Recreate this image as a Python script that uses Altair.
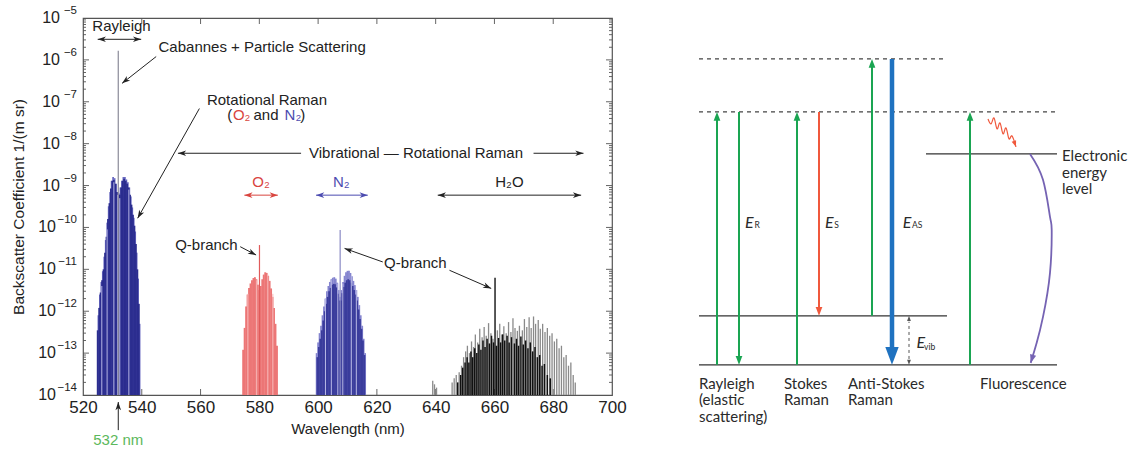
import math
import altair as alt
import pandas as pd

FONT = "Liberation Sans"
DFONT = "Lato"
INK = "#222222"
RED_T = "#d9453f"
BLUE_T = "#4b4bb0"
GREEN_T = "#5cb85c"

# ================= LEFT PANEL: backscatter spectrum =================
W_L, H_L = 529, 377

ray_outer_nm = [525.25, 525.75, 526.25, 526.75, 527.25, 527.75, 528.25, 528.75, 529.25, 529.75,
                530.25, 530.75, 531.25, 531.75, 532.25, 532.75, 533.25, 533.75, 534.25, 534.75,
                535.25, 535.75, 536.25, 536.75, 537.25, 537.75, 538.25, 538.75, 539.25]
ray_outer_val = [8e-13, 2.5e-12, 5e-12, 9e-12, 2e-11, 5e-11, 1.3e-10, 3.2e-10, 7e-10, 1.3e-9,
                 1.6e-9, 1.5e-9, 1.1e-9, 7e-10, 6.5e-10, 9e-10, 1.3e-9, 1.6e-9, 1.6e-9, 1.4e-9,
                 1.2e-9, 9e-10, 5.5e-10, 3e-10, 1.7e-10, 8e-11, 2.5e-11, 6e-12, 5e-13]
ray_inner_nm = [525.0, 525.5, 526.0, 526.5, 527.0, 527.5, 528.0, 528.5, 529.0, 529.5,
                530.0, 530.5, 531.0, 531.5, 532.0, 532.5, 533.0, 533.5, 534.0, 534.5,
                535.0, 535.5, 536.0, 536.5, 537.0, 537.5, 538.0, 538.5, 539.0]
ray_inner_val = [3.5e-13, 1.2e-12, 2.8e-12, 5.5e-12, 1e-11, 2.5e-11, 6e-11, 1.6e-10, 3.8e-10, 8.5e-10,
                 1.3e-9, 1.35e-9, 1.1e-9, 7e-10, 4.5e-10, 6e-10, 9e-10, 1.3e-9, 1.45e-9, 1.3e-9,
                 1.1e-9, 9e-10, 6e-10, 3.5e-10, 2e-10, 1.1e-10, 4e-11, 1e-11, 1.5e-12]
ray_streak_nm = [526.4, 528.2, 530.5, 531.8, 532.5, 535.6]
ray_streak_val = [4e-12, 9e-11, 1.2e-9, 6e-10, 5e-10, 8e-10]
cabannes_nm = [532.0]
cabannes_val = [1.65e-6]

o2_nm = [574.5, 575.0, 575.5, 576.0, 576.5, 577.0, 577.5, 578.0, 578.5, 579.0, 579.5, 580.0,
         580.5, 581.0, 581.5, 582.0, 582.5, 583.0, 583.5, 584.0, 584.5, 585.0, 585.5, 586.0]
o2_val = [1.2e-13, 4e-13, 1.3e-12, 2.5e-12, 3.6e-12, 4.6e-12, 5.5e-12, 6.2e-12, 6.5e-12, 5.8e-12,
          4.3e-12, 3.2e-12, 4e-12, 5.8e-12, 7.5e-12, 8.5e-12, 8.2e-12, 7e-12, 5.3e-12, 3.5e-12,
          2.2e-12, 1.2e-12, 5e-13, 1.5e-13]
o2_streak_nm = [576.1, 579.1, 582.9, 584.6]
o2_streak_val = [2.6e-12, 5.5e-12, 7.5e-12, 2.6e-12]
o2_q_nm = [580.05]
o2_q_val = [3.8e-11]

n2_outer_nm = [599.5, 600.0, 600.5, 601.0, 601.5, 602.0, 602.5, 603.0, 603.5, 604.0, 604.5, 605.0,
               605.5, 606.0, 606.5, 607.0, 607.5, 608.0, 608.5, 609.0, 609.5, 610.0, 610.5, 611.0,
               611.5, 612.0, 612.5, 613.0, 613.5, 614.0, 614.5, 615.0, 615.5, 616.0]
n2_outer_val = [1e-13, 1.8e-13, 3e-13, 4.5e-13, 8e-13, 1.3e-12, 2e-12, 3e-12, 4e-12, 5e-12, 5.8e-12,
                6.3e-12, 6.5e-12, 6e-12, 4.8e-12, 3.2e-12, 2.2e-12, 3.2e-12, 5e-12, 7e-12, 8.5e-12,
                9.2e-12, 9.2e-12, 8.2e-12, 6.8e-12, 5.3e-12, 4.2e-12, 3.2e-12, 2.2e-12, 1.4e-12,
                8e-13, 4.5e-13, 2.2e-13, 1e-13]
n2_inner_nm = [599.75, 600.25, 600.75, 601.25, 601.75, 602.25, 602.75, 603.25, 603.75, 604.25,
               604.75, 605.25, 605.75, 606.25, 606.75, 607.25, 607.75, 608.25, 608.75, 609.25,
               609.75, 610.25, 610.75, 611.25, 611.75, 612.25, 612.75, 613.25, 613.75, 614.25,
               614.75, 615.25, 615.75]
n2_inner_val = [8e-14, 1.4e-13, 2.2e-13, 3.5e-13, 6e-13, 1e-12, 1.5e-12, 2.2e-12, 3e-12, 3.6e-12,
                4.2e-12, 4.5e-12, 4.4e-12, 3.7e-12, 2.6e-12, 1.8e-12, 1.8e-12, 2.7e-12, 3.8e-12,
                4.8e-12, 5.5e-12, 5.8e-12, 5.5e-12, 4.8e-12, 4e-12, 3.2e-12, 2.5e-12, 1.8e-12,
                1.1e-12, 6.5e-13, 3.8e-13, 2e-13, 9e-14]
n2_streak_nm = [602.5, 604.5, 606.7, 608.4, 611.3, 613.0]
n2_streak_val = [2e-12, 5.5e-12, 4.6e-12, 4.5e-12, 7e-12, 3.2e-12]
n2_q_nm = [607.5]
n2_q_val = [8.7e-11]

h2o_gray_nm = [639.0, 639.6, 640.3, 645.6, 646.3, 647.0, 648.0, 648.8, 649.5, 650.2, 650.8, 651.5,
               652.2, 652.9, 653.5, 654.3, 655.0, 655.8, 656.5, 657.2, 658.0, 658.8, 659.5, 661.0,
               661.8, 662.5, 663.2, 664.0, 664.8, 665.6, 666.3, 667.0, 667.8, 668.5, 669.5, 670.2,
               671.0, 671.8, 672.5, 673.3, 674.0, 674.9, 675.6, 676.4, 677.2, 678.0, 678.8, 679.6,
               680.4, 681.2, 682.0, 682.8, 683.6, 684.4, 685.2, 686.0, 686.8, 687.5]
h2o_gray_val = [2.2e-14, 1.8e-14, 1.5e-14, 2e-14, 2.5e-14, 3e-14, 3.5e-14, 5e-14, 8e-14, 1.1e-13,
                1.5e-13, 1e-13, 1.9e-13, 1.4e-13, 2.8e-13, 1.8e-13, 3.8e-13, 2.4e-13, 4.2e-13,
                2.6e-13, 5.2e-13, 3e-13, 2.2e-13, 3.5e-13, 5e-13, 2.8e-13, 4.4e-13, 3e-13, 5.5e-13,
                3.2e-13, 6.8e-13, 4e-13, 3.4e-13, 4.5e-13, 3.5e-13, 6.5e-13, 4.2e-13, 7.2e-13, 4e-13,
                7.5e-13, 5e-13, 6.2e-13, 3.8e-13, 5e-13, 3.2e-13, 4e-13, 2.6e-13, 3e-13, 1.9e-13,
                2.2e-13, 1.3e-13, 1.5e-13, 8e-14, 9e-14, 5e-14, 6e-14, 3e-14, 2e-14]
h2o_black_nm = [647.5, 648.5, 649.2, 650.0, 650.7, 651.3, 652.0, 652.6, 653.3, 654.0, 654.7, 655.4,
                656.1, 656.8, 657.5, 658.3, 659.0, 659.7, 660.7, 661.4, 662.1, 662.8, 663.5, 664.3,
                665.0, 665.8, 666.8, 667.5, 668.2, 669.0, 669.8, 670.6, 671.4, 672.2, 673.0, 673.8,
                674.6, 675.4, 676.2, 677.0, 678.0, 679.0]
h2o_black_val = [2e-14, 3e-14, 4.5e-14, 6e-14, 8e-14, 6e-14, 1.1e-13, 8e-14, 1.3e-13, 1e-13, 1.6e-13,
                 1.2e-13, 2e-13, 1.4e-13, 2.2e-13, 1.7e-13, 2.6e-13, 1.8e-13, 1.5e-13, 2.3e-13,
                 1.8e-13, 2.8e-13, 2e-13, 2.6e-13, 1.8e-13, 2.4e-13, 1.7e-13, 2.2e-13, 1.5e-13,
                 2.5e-13, 1.6e-13, 2e-13, 1.3e-13, 1.8e-13, 1.1e-13, 1.4e-13, 8e-14, 9e-14, 5e-14,
                 5.5e-14, 3e-14, 2.5e-14]
h2o_q_nm = [660.2]
h2o_q_val = [6.3e-12]

# axis ticks / labels
x_ticks = [520, 540, 560, 580, 600, 620, 640, 660, 680, 700]
y_decades = [1e-14, 1e-13, 1e-12, 1e-11, 1e-10, 1e-9, 1e-8, 1e-7, 1e-6, 1e-5]
y_label_base = ["10"] * 10
y_label_exp = ["−14", "−13", "−12", "−11", "−10", "−9", "−8", "−7", "−6", "−5"]
y_minor_mult = [2, 3, 4, 5, 6, 7, 8, 9]

# annotation arrows: (x1, y1, x2, y2, both heads?, colour)
arr_x1 = [525.0, 544.9, 559.6, 594.2, 673.3, 574.9, 599.3, 640.7, 573.5, 622.0, 644.7, 532.0]
arr_y1 = [3.1e-6, 1.2e-6, 6.9e-8, 5.9e-9, 5.9e-9, 5.9e-10, 5.9e-10, 5.9e-10, 3.47e-11, 1.5e-11, 9.5e-12, 1.45e-15]
arr_x2 = [539.8, 533.3, 538.6, 552.3, 690.3, 586.3, 616.9, 689.5, 578.9, 609.0, 658.9, 532.0]
arr_y2 = [3.1e-6, 2.75e-7, 1.66e-10, 5.9e-9, 5.9e-9, 5.9e-10, 5.9e-10, 5.9e-10, 2.2e-11, 3.16e-11, 3.5e-12, 6.8e-15]
arr_both = [True, False, False, False, False, True, True, True, False, False, False, False]
arr_col = [INK, INK, INK, INK, INK, RED_T, BLUE_T, INK, INK, INK, INK, INK]

# texts
tc_text = ["Rayleigh", "Rotational Raman", "Vibrational — Rotational Raman", "O₂", "N₂", "H₂O",
           "Q-branch", "Q-branch", "532 nm"]
tc_x = [533.1, 582.6, 633.3, 580.6, 607.9, 665.1, 562.0, 633.1, 532.0]
tc_y = [6.6e-6, 1.1e-7, 5.9e-9, 1.23e-9, 1.23e-9, 1.23e-9, 3.8e-11, 1.38e-11, 8.5e-16]
tc_col = [INK, INK, INK, RED_T, BLUE_T, INK, INK, INK, GREEN_T]
tl_text = ["Cabannes + Particle Scattering", "(", "O₂", "and", "N₂", ")"]
tl_x = [545.7, 569.1, 571.0, 578.0, 588.6, 593.9]
tl_y = [2.07e-6, 4.8e-8, 4.8e-8, 4.8e-8, 4.8e-8, 4.8e-8]
tl_col = [INK, INK, RED_T, INK, BLUE_T, INK]

# ---------------- build left chart ----------------
xs = alt.Scale(domain=[520, 700], nice=False, zero=False)
ys = alt.Scale(type="log", domain=[1e-14, 1e-5], nice=False)

x_axis = alt.Axis(values=x_ticks, ticks=False, domain=False, grid=False, labelFontSize=17,
                  labelFont=FONT, labelColor=INK, labelPadding=4, labelFlush=False,
                  title="Wavelength (nm)", titleFont=FONT, titleFontSize=15,
                  titleFontWeight="normal", titleColor=INK, titlePadding=6)
y_axis = alt.Axis(values=y_decades, ticks=False, domain=False, grid=False, labels=False,
                  title="Backscatter Coefficient 1/(m sr)", titleFont=FONT, titleFontSize=15.5,
                  titleFontWeight="normal", titleColor=INK, titlePadding=57)


def X(f="nm"):
    return alt.X(f"{f}:Q", scale=xs, axis=x_axis)


def Y(f="val"):
    return alt.Y(f"{f}:Q", scale=ys, axis=y_axis)


BASE = 1e-14


def lines_layer(nm, val, color, width):
    df = pd.DataFrame({"nm": nm, "val": val, "base": [BASE] * len(nm)})
    return alt.Chart(df).mark_rule(color=color, strokeWidth=width).encode(
        x=X(), y=Y(), y2="base:Q")


# y tick labels drawn as "10" + raised exponent
ylab_df = pd.DataFrame({"nm": [520] * 10, "val": y_decades, "b": y_label_base, "e": y_label_exp,
                        "two": [len(s) > 2 for s in y_label_exp]})
ylab_base_1 = alt.Chart(ylab_df).transform_filter("!datum.two").mark_text(
    font=FONT, fontSize=16, align="right", baseline="middle", dx=-23, color=INK).encode(
    x=X(), y=Y(), text="b:N")
ylab_base_2 = alt.Chart(ylab_df).transform_filter("datum.two").mark_text(
    font=FONT, fontSize=16, align="right", baseline="middle", dx=-27, color=INK).encode(
    x=X(), y=Y(), text="b:N")
ylab_exp = alt.Chart(ylab_df).mark_text(
    font=FONT, fontSize=11.5, align="right", baseline="middle", dx=-6, dy=-7, color=INK).encode(
    x=X(), y=Y(), text="e:N")

# inward axis ticks (frame ticks)
tk_nm, tk_val, tk_nm2, tk_val2 = [], [], [], []
maj_dx = 6 / (W_L / 180.0)
min_dx = 3 / (W_L / 180.0)
maj_dy = 10 ** (6 / (H_L / 9.0))
for t in x_ticks[1:-1]:
    tk_nm += [t, t]; tk_nm2 += [t, t]
    tk_val += [1e-14, 1e-5]; tk_val2 += [1e-14 * maj_dy, 1e-5 / maj_dy]
for d in y_decades[1:-1]:
    tk_nm += [520, 700]; tk_nm2 += [520 + maj_dx, 700 - maj_dx]
    tk_val += [d, d]; tk_val2 += [d, d]
for d in y_decades[:-1]:
    for m in y_minor_mult:
        v = d * m
        tk_nm += [520, 700]; tk_nm2 += [520 + min_dx, 700 - min_dx]
        tk_val += [v, v]; tk_val2 += [v, v]
ticks_df = pd.DataFrame({"nm": tk_nm, "val": tk_val, "nm2": tk_nm2, "val2": tk_val2})
ticks_layer = alt.Chart(ticks_df).mark_rule(color="#555555", strokeWidth=0.9).encode(
    x=X(), y=Y(), x2="nm2:Q", y2="val2:Q")


def px_left(nm, v):
    return (nm - 520) / 180.0 * W_L, (-5 - math.log10(v)) / 9.0 * H_L


def ang(dx, dy):
    return (math.degrees(math.atan2(dx, -dy)) + 360.0) % 360.0


arr_df = pd.DataFrame({"nm": arr_x1, "val": arr_y1, "nm2": arr_x2, "val2": arr_y2, "col": arr_col})
arrow_lines = alt.Chart(arr_df).mark_rule(strokeWidth=1).encode(
    x=X(), y=Y(), x2="nm2:Q", y2="val2:Q", color=alt.Color("col:N", scale=None))

h_nm, h_val, h_ang, h_col = [], [], [], []
for i in range(len(arr_x1)):
    ax, ay = px_left(arr_x1[i], arr_y1[i])
    bx, by = px_left(arr_x2[i], arr_y2[i])
    h_nm.append(arr_x2[i]); h_val.append(arr_y2[i]); h_ang.append(ang(bx - ax, by - ay)); h_col.append(arr_col[i])
    if arr_both[i]:
        h_nm.append(arr_x1[i]); h_val.append(arr_y1[i]); h_ang.append(ang(ax - bx, ay - by)); h_col.append(arr_col[i])
heads_df = pd.DataFrame({"nm": h_nm, "val": h_val, "ang": h_ang, "col": h_col})
BARB = "M0,0L0.55,1.6L0,1.15L-0.55,1.6Z"
arrow_heads = alt.Chart(heads_df).mark_point(shape=BARB, filled=True, size=105, opacity=1,
                                             strokeWidth=0).encode(
    x=X(), y=Y(), angle=alt.Angle("ang:Q", scale=None), color=alt.Color("col:N", scale=None))

txt_c = alt.Chart(pd.DataFrame({"nm": tc_x, "val": tc_y, "t": tc_text, "col": tc_col})).mark_text(
    font=FONT, fontSize=15, align="center", baseline="middle").encode(
    x=X(), y=Y(), text="t:N", color=alt.Color("col:N", scale=None))
txt_l = alt.Chart(pd.DataFrame({"nm": tl_x, "val": tl_y, "t": tl_text, "col": tl_col})).mark_text(
    font=FONT, fontSize=15, align="left", baseline="middle").encode(
    x=X(), y=Y(), text="t:N", color=alt.Color("col:N", scale=None))

left = alt.layer(
    ticks_layer,
    lines_layer(ray_outer_nm, ray_outer_val, "#6b6bc2", 1.8),
    lines_layer(ray_inner_nm, ray_inner_val, "#2b2d8f", 1.8),
    lines_layer(ray_streak_nm, ray_streak_val, "#b4b4e4", 1.0),
    lines_layer(o2_nm, o2_val, "#ec7676", 1.9),
    lines_layer(o2_streak_nm, o2_streak_val, "#f7baba", 1.0),
    lines_layer(o2_q_nm, o2_q_val, "#e05a5a", 1.2),
    lines_layer(n2_outer_nm, n2_outer_val, "#8585cf", 1.8),
    lines_layer(n2_inner_nm, n2_inner_val, "#3a3c9c", 1.8),
    lines_layer(n2_streak_nm, n2_streak_val, "#b9b9e6", 1.0),
    lines_layer(n2_q_nm, n2_q_val, "#8a8ac4", 1.2),
    lines_layer(cabannes_nm, cabannes_val, "#8a8a98", 1.2),
    lines_layer(h2o_gray_nm, h2o_gray_val, "#8a8a8a", 1.3),
    lines_layer(h2o_black_nm, h2o_black_val, "#111111", 1.5),
    lines_layer(h2o_q_nm, h2o_q_val, "#111111", 1.4),
    ylab_base_1, ylab_base_2, ylab_exp,
    arrow_lines, arrow_heads, txt_c, txt_l,
).properties(width=W_L, height=H_L, view=alt.ViewBackground(stroke="#555555", strokeWidth=1.2))

# ================= RIGHT PANEL: energy-level diagram =================
W_R, H_R = 440, 412
E_LO, E_HI = -1.33, 7.08
PX_PER_E = H_R / (E_HI - E_LO)
GREEN, REDO, BLUE, PURPLE = "#1aa552", "#f0583c", "#1f72c0", "#7563b3"

# energy levels (diagram units: horizontal position, energy relative to ground)
lvl_x1 = [699, 699, 926]
lvl_x2 = [947, 1057, 1057]
lvl_E = [1.0, 0.0, 4.306]
virt_x1 = [699, 699]
virt_x2 = [947, 1057]
virt_E = [6.245, 5.163]

# transitions
tr_x = [717, 739, 797, 819, 872, 892, 970]
tr_from = [0.0, 5.163, 0.0, 5.163, 1.0, 6.245, 0.0]
tr_to = [5.163, 0.0, 5.163, 1.0, 6.245, 0.0, 5.163]
tr_col = [GREEN, GREEN, GREEN, REDO, GREEN, BLUE, GREEN]
tr_w = [2.0, 2.0, 2.0, 2.0, 2.0, 4.5, 2.0]
tr_head = [125, 125, 125, 125, 125, 500, 125]

# fluorescence emission curve and absorbed-photon squiggle
fl_x = [1030, 1043, 1050, 1051.7, 1050, 1043, 1036.7, 1030.7]
fl_E = [4.306, 3.776, 3.02, 2.755, 1.878, 0.98, 0.449, 0.04]
sq_x = [988, 991, 994, 997, 1000, 1003, 1006, 1009, 1012, 1016]
sq_E = [5.02, 4.918, 5.041, 4.816, 4.939, 4.714, 4.837, 4.612, 4.673, 4.449]

vib_x = [909]

rx = alt.Scale(domain=[690, 690 + W_R], nice=False, zero=False)
ry = alt.Scale(domain=[E_LO, E_HI], nice=False, zero=False)


def RX(f="px"):
    return alt.X(f"{f}:Q", scale=rx, axis=None)


def RY(f="E"):
    return alt.Y(f"{f}:Q", scale=ry, axis=None)


lvl_layer = alt.Chart(pd.DataFrame({"px": lvl_x1, "px2": lvl_x2, "E": lvl_E})).mark_rule(
    color="#333333", strokeWidth=1.3).encode(x=RX(), x2="px2:Q", y=RY())
virt_layer = alt.Chart(pd.DataFrame({"px": virt_x1, "px2": virt_x2, "E": virt_E})).mark_rule(
    color="#444444", strokeWidth=1.2, strokeDash=[4, 4]).encode(x=RX(), x2="px2:Q", y=RY())

shaft_end = []
for f, t, s in zip(tr_from, tr_to, tr_head):
    back = 0.8 * math.sqrt(s) * 0.75 / PX_PER_E
    shaft_end.append(t - back if t > f else t + back)
tr_df = pd.DataFrame({"px": tr_x, "E": tr_from, "E2": shaft_end, "col": tr_col, "w": tr_w})
tr_layer = alt.Chart(tr_df).mark_rule().encode(
    x=RX(), y=RY(), y2="E2:Q", color=alt.Color("col:N", scale=None),
    strokeWidth=alt.StrokeWidth("w:Q", scale=None))
TRI = "M0,0L0.6,1.6L-0.6,1.6Z"
trh_df = pd.DataFrame({"px": tr_x, "E": tr_to, "col": tr_col, "sz": tr_head,
                       "ang": [0.0 if t > f else 180.0 for f, t in zip(tr_from, tr_to)]})
trh_layer = alt.Chart(trh_df).mark_point(shape=TRI, filled=True, opacity=1, strokeWidth=0).encode(
    x=RX(), y=RY(), color=alt.Color("col:N", scale=None), size=alt.Size("sz:Q", scale=None),
    angle=alt.Angle("ang:Q", scale=None))

vib_line = alt.Chart(pd.DataFrame({"px": vib_x, "E": [0.12], "E2": [0.88]})).mark_rule(
    color="#555555", strokeWidth=1, strokeDash=[3, 3]).encode(x=RX(), y=RY(), y2="E2:Q")
vib_heads = alt.Chart(pd.DataFrame({"px": vib_x * 2, "E": [0.0, 1.0], "ang": [180.0, 0.0]})).mark_point(
    shape=TRI, filled=True, size=40, color="#555555", opacity=1, strokeWidth=0).encode(
    x=RX(), y=RY(), angle=alt.Angle("ang:Q", scale=None))

fl_df = pd.DataFrame({"px": fl_x, "E": fl_E, "i": list(range(len(fl_x)))})
fl_layer = alt.Chart(fl_df).mark_line(color=PURPLE, strokeWidth=1.8, interpolate="natural").encode(
    x=RX(), y=RY(), order="i:Q")
sq_df = pd.DataFrame({"px": sq_x, "E": sq_E, "i": list(range(len(sq_x)))})
sq_layer = alt.Chart(sq_df).mark_line(color=REDO, strokeWidth=1.2, interpolate="cardinal").encode(
    x=RX(), y=RY(), order="i:Q")


def ang_r(x1, e1, x2, e2):
    return ang(x2 - x1, -(e2 - e1) * PX_PER_E)


curve_heads = pd.DataFrame({
    "px": [fl_x[-1], sq_x[-1]], "E": [fl_E[-1], sq_E[-1]],
    "ang": [ang_r(fl_x[-2], fl_E[-2], fl_x[-1], fl_E[-1]), ang_r(sq_x[-2], sq_E[-2], sq_x[-1], sq_E[-1])],
    "col": [PURPLE, REDO], "sz": [110, 60]})
curve_head_layer = alt.Chart(curve_heads).mark_point(shape=TRI, filled=True, opacity=1, strokeWidth=0).encode(
    x=RX(), y=RY(), angle=alt.Angle("ang:Q", scale=None), color=alt.Color("col:N", scale=None),
    size=alt.Size("sz:Q", scale=None))

lab_text = ["Rayleigh\n(elastic\nscattering)", "Stokes\nRaman", "Anti-Stokes\nRaman", "Fluorescence",
            "Electronic\nenergy\nlevel"]
lab_x = [699, 784, 848, 980, 1062]
lab_E = [-0.24, -0.24, -0.24, -0.24, 4.41]
lab_layer = alt.Chart(pd.DataFrame({"px": lab_x, "E": lab_E, "t": lab_text})).mark_text(
    font=DFONT, fontSize=15, align="left", baseline="top", lineBreak="\n", lineHeight=16.8,
    color="#2a2a2a").encode(x=RX(), y=RY(), text="t:N")

e_x = [745, 825, 902.7, 916.5]
e_E = [2.904, 2.904, 2.904, 0.455]
sub_text = ["R", "S", "AS", "vib"]
sub_x = [754.5, 834.2, 912.0, 924.0]
sub_E = [2.85, 2.85, 2.85, 0.36]
e_layer = alt.Chart(pd.DataFrame({"px": e_x, "E": e_E, "t": ["E"] * 4})).mark_text(
    font=DFONT, fontSize=16, fontStyle="italic", align="left", baseline="middle",
    color="#2a2a2a").encode(x=RX(), y=RY(), text="t:N")
sub_layer = alt.Chart(pd.DataFrame({"px": sub_x, "E": sub_E, "t": sub_text})).mark_text(
    font=DFONT, fontSize=8.5, align="left", baseline="middle", color="#2a2a2a").encode(
    x=RX(), y=RY(), text="t:N")

right = alt.layer(
    virt_layer, lvl_layer, tr_layer, trh_layer, vib_line, vib_heads, fl_layer, sq_layer,
    curve_head_layer, lab_layer, e_layer, sub_layer,
).properties(width=W_R, height=H_R, view=alt.ViewBackground(strokeOpacity=0))

chart = alt.hconcat(left, right, spacing=63).properties(
    padding={"left": 10, "top": 4, "right": 0, "bottom": 0}
).configure(background="white").configure_view(strokeWidth=0)

chart.save("out.html", embed_options={"renderer": "svg", "actions": False})
